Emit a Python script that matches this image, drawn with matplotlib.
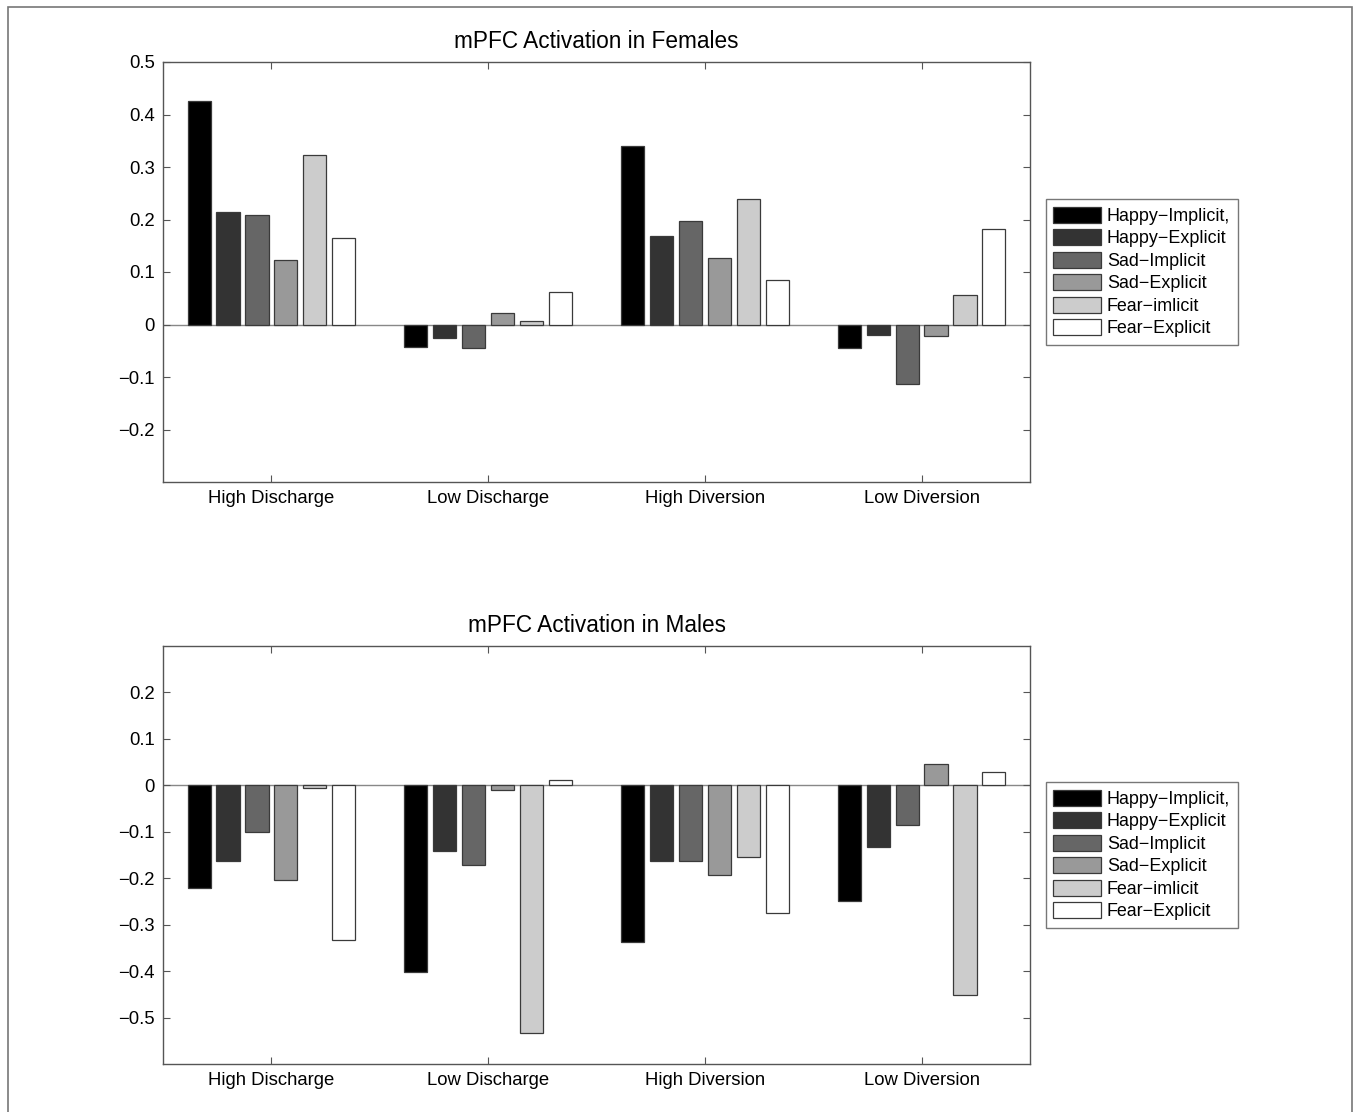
import matplotlib.pyplot as plt
from matplotlib.patches import Rectangle
import numpy as np

plt.rcParams['font.family'] = ['Liberation Sans', 'DejaVu Sans']

groups = ['High Discharge', 'Low Discharge', 'High Diversion', 'Low Diversion']
conditions = ['Happy\u2212Implicit,', 'Happy\u2212Explicit', 'Sad\u2212Implicit',
              'Sad\u2212Explicit', 'Fear\u2212imlicit', 'Fear\u2212Explicit']

# rows = groups, columns = conditions
females = [
    [0.426, 0.214, 0.209, 0.122, 0.323, 0.165],
    [-0.042, -0.026, -0.044, 0.022, 0.006, 0.061],
    [0.340, 0.168, 0.197, 0.126, 0.240, 0.085],
    [-0.044, -0.020, -0.114, -0.022, 0.057, 0.182],
]
males = [
    [-0.221, -0.162, -0.101, -0.203, -0.005, -0.334],
    [-0.401, -0.141, -0.171, -0.009, -0.533, 0.012],
    [-0.338, -0.162, -0.162, -0.193, -0.154, -0.275],
    [-0.249, -0.133, -0.085, 0.045, -0.451, 0.029],
]

colors = ['#000000', '#333333', '#666666', '#999999', '#cccccc', '#ffffff']

fig = plt.figure(figsize=(13.56, 11.12), dpi=100)

# outer frame (left, top, right only)
W, H = 1356, 1112
fig.patches.append(Rectangle((8 / W, -0.05), (1352 - 8) / W, 1.05 - 7 / H,
                             transform=fig.transFigure, fill=False,
                             edgecolor='#777777', lw=1.2))


def draw(ax, data, title, ylim, yticks):
    data = np.array(data)
    x = np.arange(1, len(groups) + 1)
    pitch = 0.1333
    width = 0.107
    n = len(conditions)
    for i in range(n):
        offs = (i - (n - 1) / 2) * pitch
        ax.bar(x + offs, data[:, i], width, color=colors[i],
               edgecolor='#3a3a3a', linewidth=0.9, label=conditions[i], zorder=2)
    ax.axhline(0, color='#888888', lw=1.0, zorder=1)
    ax.set_xlim(0.5, 4.5)
    ax.set_ylim(*ylim)
    ax.set_yticks(yticks)
    ax.set_yticklabels(['%g' % t if t >= 0 else '\u2212%g' % -t for t in yticks])
    ax.set_xticks(x)
    ax.set_xticklabels(groups)
    ax.tick_params(direction='in', top=True, right=True, length=5,
                   color='#555555', labelsize=13.3, pad=6)
    for s in ax.spines.values():
        s.set_color('#555555')
        s.set_linewidth(1.0)
    ax.set_title(title, fontsize=16.3, pad=10)
    leg = ax.legend(loc='center left', bbox_to_anchor=(1.018, 0.5),
                    fontsize=12.9, frameon=True, fancybox=False,
                    handlelength=2.65, handleheight=1.0, handletextpad=0.35,
                    labelspacing=0.24, borderpad=0.42, borderaxespad=0)
    leg.get_frame().set_edgecolor('#555555')
    leg.get_frame().set_linewidth(1.0)


ax1 = fig.add_axes([163 / W, 1 - 482 / H, 867 / W, 420 / H])
draw(ax1, females, 'mPFC Activation in Females', (-0.3, 0.5),
     [-0.2, -0.1, 0, 0.1, 0.2, 0.3, 0.4, 0.5])

ax2 = fig.add_axes([163 / W, 1 - 1064 / H, 867 / W, 418 / H])
draw(ax2, males, 'mPFC Activation in Males', (-0.6, 0.3),
     [-0.5, -0.4, -0.3, -0.2, -0.1, 0, 0.1, 0.2])

fig.savefig('out.png', dpi=100)
